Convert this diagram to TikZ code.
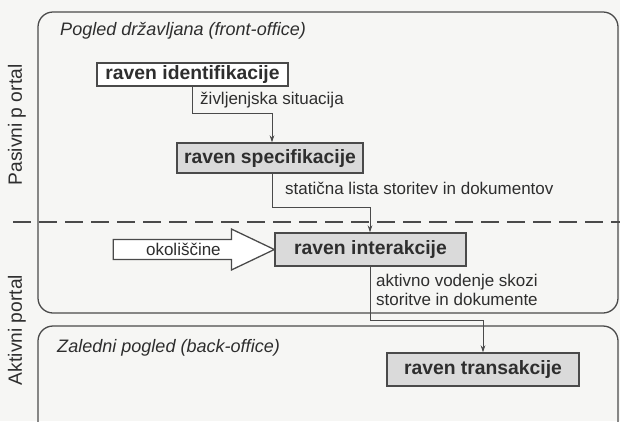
\documentclass[tikz,border=0pt]{standalone}
\usepackage{fontspec}
\setmainfont{Liberation Sans}
\usepackage{xcolor}
\usetikzlibrary{shapes,arrows.meta,positioning}
\definecolor{tekst}{HTML}{2E2E2E}
\definecolor{okvir}{HTML}{4A4A4A}
\definecolor{polnilo}{HTML}{DADADA}
\definecolor{ozadje}{HTML}{F6F6F4}
\begin{document}
\begin{tikzpicture}[x=0.03cm,y=-0.03cm,
    raven/.style={rectangle, draw=okvir, line width=1.1pt, fill=polnilo, text=tekst,
        font=\fontsize{16.5}{19}\selectfont\bfseries, inner sep=0pt},
    opis/.style={anchor=west, text=tekst, font=\fontsize{14.5}{15.5}\selectfont, inner sep=0pt},
    pogled/.style={anchor=west, text=tekst, font=\fontsize{15.4}{18}\selectfont\itshape, inner sep=0pt},
    portal/.style={rotate=90, text=tekst, font=\fontsize{16.4}{19}\selectfont, inner sep=0pt},
    okvirpog/.style={draw=okvir, line width=1.1pt, rounded corners=0.45cm},
    tok/.style={draw=okvir, line width=0.8pt, -{Stealth[length=6pt,width=4pt]}}]
    \fill[ozadje] (0,0) rectangle (620,421);
    \useasboundingbox (0,0) rectangle (620,421);
    \begin{scope}
        \clip (0,0) rectangle (620,421);
        \draw[okvirpog] (38,12) rectangle (618,313);
        \draw[okvirpog] (38,326) rectangle (618,460);
    \end{scope}
    \draw[okvir, line width=1.7pt, dash pattern=on 0.54cm off 0.24cm] (13,222) -- (620,222);
    \node[pogled] (front) at (60,31) {Pogled državljana (front-office)};
    \node[pogled] (back) at (57,348) {Zaledni pogled (back-office)};
    \node[portal] (pasivni) at (17,125) {Pasivni p ortal};
    \node[portal] (aktivni) at (17,330) {Aktivni portal};
    \node[raven, fill=white, minimum width=5.73cm, minimum height=0.69cm] (ident) at (192.5,74.5) {raven identifikacije};
    \node[raven, minimum width=5.58cm, minimum height=0.9cm] (spec) at (270,158) {raven specifikacije};
    \node[raven, minimum width=5.73cm, minimum height=0.99cm] (inter) at (370.5,249.5) {raven interakcije};
    \node[raven, minimum width=5.76cm, minimum height=0.99cm] (trans) at (483,369.5) {raven transakcije};
    \coordinate (k1) at (272,113);
    \coordinate (k2) at (370,207);
    \coordinate (k3) at (483,320);
    \draw[tok] (ident.south) |- (k1) -- (k1 |- spec.north);
    \draw[tok] (spec.south -| k1) |- (k2) -- (k2 |- inter.north);
    \draw[tok] (inter.south -| k2) |- (k3) -- (k3 |- trans.north);
    \node[opis] (lsit) at (200,100) {življenjska situacija};
    \node[opis] (lstat) at (285,188) {statična lista storitev in dokumentov};
    \node[opis, align=left] (lakt) at (376,290) {aktivno vodenje skozi\\storitve in dokumente};
    \node[single arrow, draw=okvir, line width=1.1pt, fill=white, text=tekst, outer sep=0pt,
        font=\fontsize{14.5}{15.5}\selectfont, inner ysep=2.6pt,
        single arrow head extend=0.315cm, single arrow tip angle=51,
        minimum height=4.83cm, anchor=tip] (okol) at (inter.west) {okoliščine};
\end{tikzpicture}
\end{document}
